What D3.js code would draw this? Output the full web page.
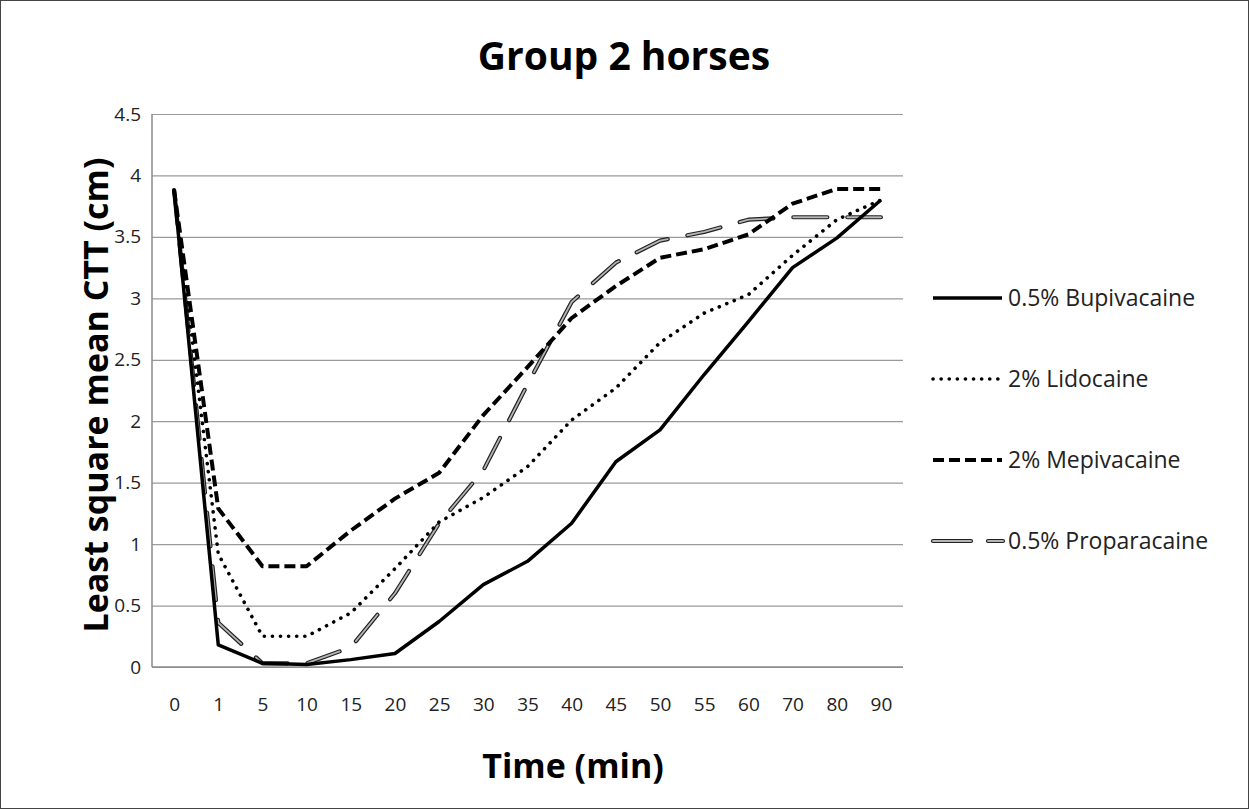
<!DOCTYPE html>
<html>
<head>
<meta charset="utf-8">
<script src="https://cdn.jsdelivr.net/npm/d3@7"></script>
<style>
  body { margin: 0; background: #fff; }
  svg { display: block; font-family: 'Open Sans', sans-serif; }
</style>
</head>
<body>
<div class="canvas"></div>
<script>
const times = ['0', '1', '5', '10', '15', '20', '25', '30', '35', '40', '45', '50', '55', '60', '70', '80', '90'];
const bupivacaine = [3.88, 0.18, 0.03, 0.02, 0.06, 0.11, 0.37, 0.67, 0.86, 1.17, 1.67, 1.93, 2.38, 2.81, 3.25, 3.49, 3.8];
const lidocaine = [3.88, 0.92, 0.25, 0.25, 0.44, 0.8, 1.18, 1.38, 1.63, 2.01, 2.27, 2.64, 2.88, 3.03, 3.35, 3.64, 3.8];
const mepivacaine = [3.88, 1.29, 0.82, 0.82, 1.11, 1.37, 1.58, 2.05, 2.44, 2.84, 3.1, 3.33, 3.4, 3.52, 3.77, 3.89, 3.89];
const proparacaine = [3.88, 0.36, 0.03, 0.03, 0.16, 0.6, 1.17, 1.6, 2.3, 2.97, 3.29, 3.47, 3.54, 3.64, 3.66, 3.66, 3.66];
const seriesNames = ['0.5% Bupivacaine', '2% Lidocaine', '2% Mepivacaine', '0.5% Proparacaine'];
const yTicks = [0, 0.5, 1, 1.5, 2, 2.5, 3, 3.5, 4, 4.5];

const canvasWidth = 1249;
const canvasHeight = 809;
const margins = { top: 114, right: 346, bottom: 142, left: 152 };
const graphWidth = canvasWidth - margins.left - margins.right;
const graphHeight = canvasHeight - margins.top - margins.bottom;

const svg = d3
  .select('.canvas')
  .append('svg')
  .attr('width', canvasWidth)
  .attr('height', canvasHeight);

// outer frame
svg
  .append('rect')
  .attr('x', 0.5)
  .attr('y', 0.5)
  .attr('width', canvasWidth - 1)
  .attr('height', canvasHeight - 1)
  .attr('fill', '#fff')
  .attr('stroke', '#444');

const graph = svg
  .append('g')
  .attr('transform', `translate(${margins.left}, ${margins.top})`);

// Scales
const x = d3.scalePoint().domain(times).range([0, graphWidth]).padding(0.5);
const y = d3.scaleLinear().domain([0, 4.5]).range([graphHeight, 0]);

// gridlines
const yAxis = d3.axisLeft(y).tickValues(yTicks).tickSize(-graphWidth).tickFormat(d3.format(''));
const yAxisGroup = graph.append('g').attr('class', 'y-axis').call(yAxis);
yAxisGroup.attr('font-family', null).attr('font-size', null);
yAxisGroup.select('.domain').remove();
yAxisGroup.selectAll('line').attr('stroke', '#9a9a9a').attr('stroke-width', 1.2);
yAxisGroup
  .selectAll('text')
  .attr('x', -11)
  .attr('fill', '#222')
  .style('font-size', '19px');

const xAxis = d3.axisBottom(x).tickSize(0);
const xAxisGroup = graph
  .append('g')
  .attr('class', 'x-axis')
  .attr('transform', `translate(0, ${graphHeight})`)
  .call(xAxis);
xAxisGroup.attr('font-family', null).attr('font-size', null);
xAxisGroup.select('.domain').remove();
xAxisGroup
  .selectAll('text')
  .attr('y', 31)
  .attr('fill', '#222')
  .style('font-size', '19px');

// axis lines
graph.append('line')
  .attr('x1', 0).attr('x2', 0).attr('y1', 0).attr('y2', graphHeight)
  .attr('stroke', '#8a8a8a').attr('stroke-width', 1.5);
graph.append('line')
  .attr('x1', 0).attr('x2', graphWidth).attr('y1', graphHeight).attr('y2', graphHeight)
  .attr('stroke', '#8a8a8a').attr('stroke-width', 1.5);

const line = d3
  .line()
  .x((d, i) => x(times[i]))
  .y(d => y(d));

// series styles
const styles = [
  [{ stroke: '#000', width: 3.5, dash: null, cap: 'butt' }],
  [{ stroke: '#000', width: 3.6, dash: '0.1, 8', cap: 'round' }],
  [{ stroke: '#000', width: 4, dash: '11, 5', cap: 'butt' }],
  [
    { stroke: '#222', width: 4.2, dash: '34, 20', cap: 'round' },
    { stroke: '#b4b4b4', width: 1.8, dash: '34, 20', cap: 'round' }
  ]
];
const seriesData = [bupivacaine, lidocaine, mepivacaine, proparacaine];

const drawOrder = [3, 2, 1, 0];
drawOrder.forEach(k => {
  styles[k].forEach(s => {
    graph
      .append('path')
      .datum(seriesData[k])
      .attr('fill', 'none')
      .attr('stroke', s.stroke)
      .attr('stroke-width', s.width)
      .attr('stroke-dasharray', s.dash)
      .attr('stroke-linecap', s.cap)
      .attr('stroke-linejoin', 'round')
      .attr('d', line);
  });
});

// legend
const legend = svg.append('g').attr('transform', 'translate(932, 298)');
seriesNames.forEach((name, k) => {
  const row = legend.append('g').attr('transform', `translate(0, ${k * 81})`);
  styles[k].forEach(s => {
    row
      .append('line')
      .attr('x1', 1)
      .attr('x2', k === 3 ? 71 : 70)
      .attr('stroke', s.stroke)
      .attr('stroke-width', s.width)
      .attr('stroke-dasharray', k === 3 ? '38, 17' : s.dash)
      .attr('stroke-linecap', s.cap);
  });
  row
    .append('text')
    .attr('x', 76)
    .attr('y', 8)
    .attr('fill', '#222')
    .style('font-size', '23px')
    .text(name);
});

// titles
svg
  .append('text')
  .attr('x', 624)
  .attr('y', 70)
  .attr('text-anchor', 'middle')
  .style('font-size', '39px')
  .style('font-weight', 'bold')
  .text('Group 2 horses');

svg
  .append('text')
  .attr('x', 573)
  .attr('y', 778)
  .attr('text-anchor', 'middle')
  .style('font-size', '34px')
  .style('font-weight', 'bold')
  .text('Time (min)');

svg
  .append('text')
  .attr('transform', 'translate(108, 395) rotate(-90)')
  .attr('text-anchor', 'middle')
  .style('font-size', '34px')
  .style('font-weight', 'bold')
  .text('Least square mean CTT (cm)');
</script>
</body>
</html>
